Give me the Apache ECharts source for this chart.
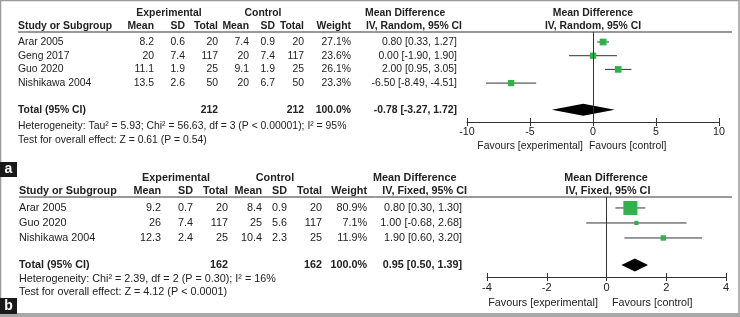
<!DOCTYPE html>
<html>
<head>
<meta charset="utf-8">
<script src="https://cdn.jsdelivr.net/npm/echarts@6/dist/echarts.min.js"></script>
<style>
    html, body { margin: 0; padding: 0; background: #fff; }
    #forest { width: 740px; height: 317px; }
</style>
</head>
<body>
<div id="forest"></div>
<script>
// panel a: random effects
var studiesA = ['Arar 2005', 'Geng 2017', 'Guo 2020', 'Nishikawa 2004'];
var expMeanA = [8.2, 20, 11.1, 13.5];
var expSdA = [0.6, 7.4, 1.9, 2.6];
var expNA = [20, 117, 25, 50];
var ctlMeanA = [7.4, 20, 9.1, 20];
var ctlSdA = [0.9, 7.4, 1.9, 6.7];
var ctlNA = [20, 117, 25, 50];
var weightA = [27.1, 23.6, 26.1, 23.3];
var mdA = [0.80, 0.00, 2.00, -6.50];
var lowA = [0.33, -1.90, 0.95, -8.49];
var highA = [1.27, 1.90, 3.05, -4.51];
var totalA = [-0.78, -3.27, 1.72];
var totalNA = [212, 212];
var ticksA = [-10, -5, 0, 5, 10];

// panel b: fixed effects
var studiesB = ['Arar 2005', 'Guo 2020', 'Nishikawa 2004'];
var expMeanB = [9.2, 26, 12.3];
var expSdB = [0.7, 7.4, 2.4];
var expNB = [20, 117, 25];
var ctlMeanB = [8.4, 25, 10.4];
var ctlSdB = [0.9, 5.6, 2.3];
var ctlNB = [20, 117, 25];
var weightB = [80.9, 7.1, 11.9];
var mdB = [0.80, 1.00, 1.90];
var lowB = [0.30, -0.68, 0.60];
var highB = [1.30, 2.68, 3.20];
var totalB = [0.95, 0.50, 1.39];
var totalNB = [162, 162];
var ticksB = [-4, -2, 0, 2, 4];

var FONT = '"Liberation Sans", Arial, sans-serif';
var INK = '#222';
var GREEN = '#2fb24a';

function ci(m, l, h) {
    return m.toFixed(2) + ' [' + l.toFixed(2) + ', ' + h.toFixed(2) + ']';
}

// builds grid, axes and series for one panel
function panel(idx, p) {
    var rows = p.studies.map(function (s, i) {
        return [p.md[i], i, p.low[i], p.high[i], p.weight[i]];
    });
    var tableRows = p.studies.map(function (s, i) {
        return [0, i, s, String(p.expMean[i]), String(p.expSd[i]), String(p.expN[i]),
            String(p.ctlMean[i]), String(p.ctlSd[i]), String(p.ctlN[i]),
            p.weight[i].toFixed(1) + '%', ci(p.md[i], p.low[i], p.high[i]), 0];
    });
    tableRows.push([0, p.totalRow, 'Total (95% CI)', '', '', String(p.totalN[0]), '', '', String(p.totalN[1]),
        '100.0%', ci(p.total[0], p.total[1], p.total[2]), 1]);

    var grid = { left: p.left, right: 740 - p.right, top: p.top, bottom: 317 - p.bottom };
    var xAxes = [
        {
            gridIndex: idx, type: 'value', position: 'bottom', min: p.ticks[0], max: p.ticks[p.ticks.length - 1],
            interval: p.ticks[1] - p.ticks[0],
            axisLine: { show: true, onZero: false, lineStyle: { color: '#333', width: 1 } },
            axisTick: { show: true, inside: false, length: 4, lineStyle: { color: '#333' } },
            axisLabel: { fontFamily: FONT, fontSize: p.fs + 0.3, color: INK, margin: 5 },
            splitLine: { show: false }
        },
        {
            gridIndex: idx, type: 'value', position: 'bottom', min: p.ticks[0], max: p.ticks[p.ticks.length - 1],
            interval: p.ticks[1] - p.ticks[0],
            axisLine: { show: false, onZero: false },
            axisTick: { show: true, inside: true, length: 4, lineStyle: { color: '#333' } },
            axisLabel: { show: false },
            splitLine: { show: false }
        }
    ];
    var yAxis = {
        gridIndex: idx, type: 'value', inverse: true, min: p.ymin, max: p.ymax,
        show: false
    };
    var cols = p.cols;
    var series = [
        {
            // table text, rows placed on the panel's row axis
            type: 'custom', xAxisIndex: idx * 2, yAxisIndex: idx, silent: true,
            data: tableRows,
            renderItem: function (params, api) {
                var y = api.coord([0, api.value(1)])[1];
                var bold = api.value(11) === 1;
                var kids = [{
                    type: 'text', style: {
                        x: cols[0], y: y, text: tableRows[params.dataIndex][2], textAlign: 'left', textVerticalAlign: 'middle',
                        font: (bold ? 'bold ' : '') + p.fs + 'px ' + FONT, fill: INK
                    }
                }];
                for (var c = 1; c < cols.length; c++) {
                    kids.push({
                        type: 'text', style: {
                            x: cols[c], y: y, text: tableRows[params.dataIndex][c + 2], textAlign: 'right', textVerticalAlign: 'middle',
                            font: (bold ? 'bold ' : '') + p.fs + 'px ' + FONT, fill: INK
                        }
                    });
                }
                return { type: 'group', children: kids };
            }
        },
        {
            type: 'custom', xAxisIndex: idx * 2, yAxisIndex: idx, silent: true,
            data: rows,
            renderItem: function (params, api) {
                var c = api.coord([api.value(0), api.value(1)]);
                var l = api.coord([api.value(2), api.value(1)]);
                var h = api.coord([api.value(3), api.value(1)]);
                var s = Math.sqrt(api.value(4)) * p.k;
                return {
                    type: 'group', children: [
                        { type: 'line', shape: { x1: l[0], y1: l[1], x2: h[0], y2: h[1] }, style: { stroke: '#333', lineWidth: 1 } },
                        { type: 'rect', shape: { x: c[0] - s / 2, y: c[1] - s / 2, width: s, height: s }, style: { fill: GREEN } }
                    ]
                };
            },
            markLine: {
                silent: true, symbol: 'none', label: { show: false },
                lineStyle: { color: '#333', width: 1, type: 'solid' },
                data: [{ xAxis: 0 }]
            }
        },
        {
            type: 'custom', xAxisIndex: idx * 2, yAxisIndex: idx, silent: true,
            data: [[p.total[0], p.totalRow, p.total[1], p.total[2]]],
            renderItem: function (params, api) {
                var c = api.coord([api.value(0), api.value(1)]);
                var l = api.coord([api.value(2), api.value(1)]);
                var h = api.coord([api.value(3), api.value(1)]);
                return {
                    type: 'polygon',
                    shape: { points: [[l[0], l[1]], [c[0], c[1] - p.dh], [h[0], h[1]], [c[0], c[1] + p.dh]] },
                    style: { fill: '#000' }
                };
            }
        }
    ];
    return { grid: grid, xAxes: xAxes, yAxis: yAxis, series: series };
}

var pa = panel(0, {
    studies: studiesA, expMean: expMeanA, expSd: expSdA, expN: expNA, ctlMean: ctlMeanA, ctlSd: ctlSdA, ctlN: ctlNA,
    weight: weightA, md: mdA, low: lowA, high: highA, total: totalA, totalN: totalNA, ticks: ticksA,
    left: 467, right: 719, top: 32, bottom: 122, ymin: -0.73, ymax: 5.84, totalRow: 4.95,
    cols: [18, 154, 185, 218, 249, 275, 304, 351, 457], fs: 10.4, k: 1.3, dh: 6
});
var pb = panel(1, {
    studies: studiesB, expMean: expMeanB, expSd: expSdB, expN: expNB, ctlMean: ctlMeanB, ctlSd: ctlSdB, ctlN: ctlNB,
    weight: weightB, md: mdB, low: lowB, high: highB, total: totalB, totalN: totalNB, ticks: ticksB,
    left: 487, right: 726, top: 197, bottom: 277, ymin: -0.73, ymax: 4.6, totalRow: 3.8,
    cols: [19, 161, 193, 228, 262, 287, 322, 367, 462], fs: 10.8, k: 1.56, dh: 6.5
});

function txt(x, y, s, align, fs, bold) {
    return {
        type: 'text', silent: true, style: {
            x: x, y: y, text: s, textAlign: align, textVerticalAlign: 'middle',
            font: (bold ? 'bold ' : '') + fs + 'px ' + FONT, fill: INK
        }
    };
}
function hline(x1, x2, y) {
    return { type: 'line', silent: true, shape: { x1: x1, y1: y, x2: x2, y2: y }, style: { stroke: '#333', lineWidth: 1 } };
}
function headers(o) {
    var c = o.cols, fs = o.fs;
    return [
        txt(o.expC, o.y1, 'Experimental', 'center', fs, true),
        txt(o.ctlC, o.y1, 'Control', 'center', fs, true),
        txt(o.mdL, o.y1, 'Mean Difference', 'left', fs, true),
        txt(o.plotC, o.y1, 'Mean Difference', 'center', fs, true),
        txt(c[0], o.y2, 'Study or Subgroup', 'left', fs, true),
        txt(c[1], o.y2, 'Mean', 'right', fs, true),
        txt(c[2], o.y2, 'SD', 'right', fs, true),
        txt(c[3], o.y2, 'Total', 'right', fs, true),
        txt(c[4], o.y2, 'Mean', 'right', fs, true),
        txt(c[5], o.y2, 'SD', 'right', fs, true),
        txt(c[6], o.y2, 'Total', 'right', fs, true),
        txt(c[7], o.y2, 'Weight', 'right', fs, true),
        txt(o.mdR, o.y2, o.method, 'right', fs, true),
        txt(o.plotC2, o.y2, o.method, 'center', fs, true),
        hline(c[0], 732, o.line),
        txt(c[0], o.het[0], o.het[1], 'left', fs, false),
        txt(c[0], o.test[0], o.test[1], 'left', fs, false),
        txt(o.favE, o.fav, 'Favours [experimental]', 'right', fs, false),
        txt(o.favC, o.fav, 'Favours [control]', 'left', fs, false)
    ];
}

var graphics = [].concat(
    headers({
        cols: [18, 154, 185, 218, 249, 275, 304, 351], fs: 10.4, y1: 13, y2: 26, line: 32,
        expC: 169, ctlC: 263, mdL: 365, mdR: 462, plotC: 593, plotC2: 593, method: 'IV, Random, 95% CI',
        het: [126, 'Heterogeneity: Tau² = 5.93; Chi² = 56.63, df = 3 (P < 0.00001); I² = 95%'],
        test: [140, 'Test for overall effect: Z = 0.61 (P = 0.54)'],
        favE: 583, favC: 589, fav: 146
    }),
    headers({
        cols: [19, 161, 193, 228, 262, 287, 322, 367], fs: 10.8, y1: 178, y2: 191, line: 197,
        expC: 176, ctlC: 275, mdL: 373, mdR: 467, plotC: 606, plotC2: 608, method: 'IV, Fixed, 95% CI',
        het: [279, 'Heterogeneity: Chi² = 2.39, df = 2 (P = 0.30); I² = 16%'],
        test: [292, 'Test for overall effect: Z = 4.12 (P < 0.0001)'],
        favE: 598, favC: 612, fav: 303
    }),
    [
        { type: 'rect', silent: true, shape: { x: 0.5, y: 0.5, width: 738.5, height: 315 }, style: { fill: 'none', stroke: '#9a9a9a', lineWidth: 1.5 } },
        { type: 'rect', silent: true, shape: { x: 0, y: 313, width: 740, height: 4 }, style: { fill: '#a8a8a8' } },
        { type: 'rect', silent: true, shape: { x: 0, y: 162, width: 17, height: 15 }, style: { fill: '#1a1a1a' } },
        { type: 'text', silent: true, style: { x: 8.5, y: 169.5, text: 'a', textAlign: 'center', textVerticalAlign: 'middle', font: 'bold 14px ' + FONT, fill: '#fff' } },
        { type: 'rect', silent: true, shape: { x: 0, y: 298, width: 17, height: 16 }, style: { fill: '#1a1a1a' } },
        { type: 'text', silent: true, style: { x: 8.5, y: 306, text: 'b', textAlign: 'center', textVerticalAlign: 'middle', font: 'bold 14px ' + FONT, fill: '#fff' } }
    ]
);

var myChart = echarts.init(document.getElementById('forest'));
myChart.setOption({
    animation: false,
    backgroundColor: '#fff',
    grid: [pa.grid, pb.grid],
    xAxis: pa.xAxes.concat(pb.xAxes),
    yAxis: [pa.yAxis, pb.yAxis],
    series: pa.series.concat(pb.series),
    graphic: graphics
});
</script>
</body>
</html>
